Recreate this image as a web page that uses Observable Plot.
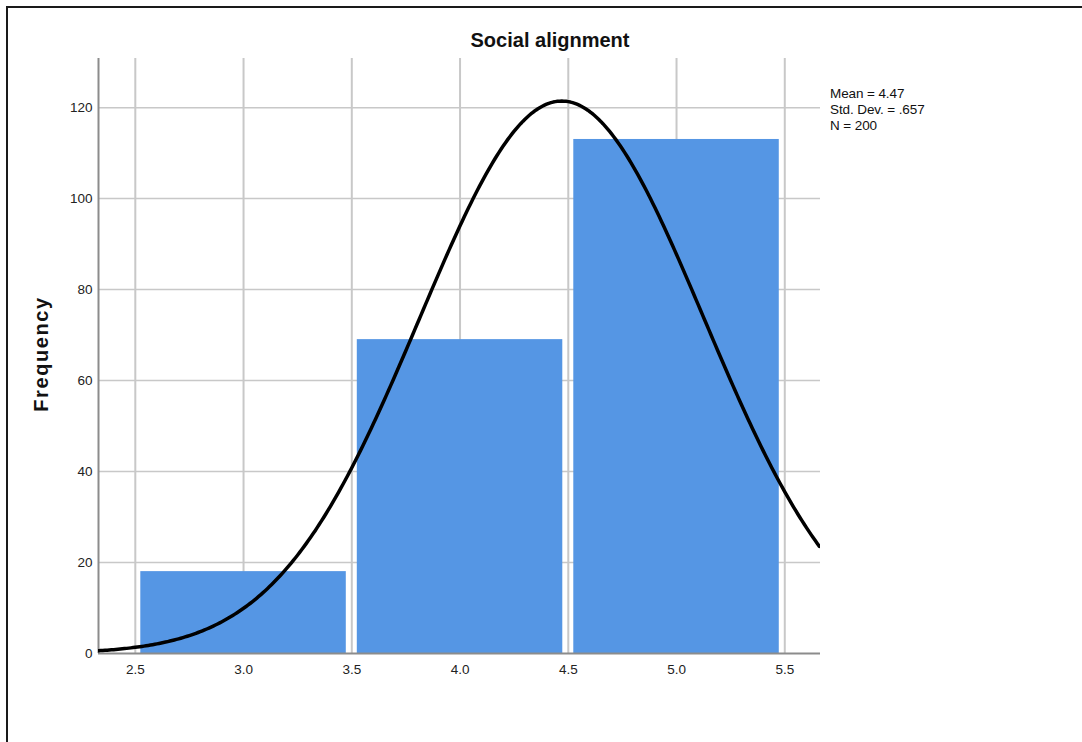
<!DOCTYPE html>
<html>
<head>
<meta charset="utf-8">
<script src="https://cdn.jsdelivr.net/npm/d3@7"></script>
<script src="https://cdn.jsdelivr.net/npm/@observablehq/plot@0.6"></script>
<style>
  html, body { margin: 0; padding: 0; background: #fff; }
  #wrap { position: relative; width: 1082px; height: 742px; overflow: hidden; font-family: "Liberation Sans", Arial, sans-serif; }
  #frame { position: absolute; left: 6px; top: 6px; right: -10px; bottom: -10px; border-top: 2px solid #1a1a1a; border-left: 2px solid #1a1a1a; }
  #title { position: absolute; left: 0; width: 1100px; top: 29px; text-align: center; font-weight: bold; font-size: 20px; color: #111; }
  #ylabel { position: absolute; left: 41px; top: 354px; transform: translate(-50%, -50%) rotate(-90deg); font-weight: bold; font-size: 20px; letter-spacing: 1.6px; color: #111; white-space: nowrap; }
  #stats { position: absolute; left: 830px; top: 86px; font-size: 13.5px; line-height: 16px; color: #111; letter-spacing: -0.1px; }
  #chart { position: absolute; left: 0; top: 0; }
</style>
</head>
<body>
<div id="wrap">
  <div id="chart"></div>
  <div id="frame"></div>
  <div id="title"></div>
  <div id="ylabel"></div>
  <div id="stats"></div>
</div>
<script>
// ---- data ----
const chartTitle = "Social alignment";
const yLabel = "Frequency";
const binStarts = [2.5, 3.5, 4.5];
const binEnds = [3.5, 4.5, 5.5];
const frequencies = [18, 69, 113];
const xTicks = [2.5, 3.0, 3.5, 4.0, 4.5, 5.0, 5.5];
const yTicks = [0, 20, 40, 60, 80, 100, 120];
const mean = 4.47;
const stdDev = 0.657;
const nCases = 200;
const statLines = ["Mean = 4.47", "Std. Dev. = .657", "N = 200"];

// ---- derived ----
const bins = binStarts.map((s, i) => ({x1: s, x2: binEnds[i], y: frequencies[i]}));
const xDomain = [2.33, 5.665];
const yDomain = [0, 130.8];
const binWidth = binEnds[0] - binStarts[0];
// fitted normal curve defined by the chart's stated mean, SD and N
const curve = d3.range(xDomain[0], xDomain[1] + 0.005, 0.01).map(x => ({
  x,
  y: nCases * binWidth * Math.exp(-0.5 * ((x - mean) / stdDev) ** 2) / (stdDev * Math.sqrt(2 * Math.PI))
}));

document.getElementById("title").textContent = chartTitle;
document.getElementById("ylabel").textContent = yLabel;
document.getElementById("stats").innerHTML = statLines.join("<br>");

const plot = Plot.plot({
  width: 1082,
  height: 742,
  marginLeft: 98,
  marginRight: 262,
  marginTop: 58,
  marginBottom: 89,
  style: {fontFamily: "'Liberation Sans', Arial, sans-serif", fontSize: "13.5px", color: "#222", background: "transparent"},
  x: {domain: xDomain},
  y: {domain: yDomain},
  marks: [
    Plot.gridX(xTicks, {stroke: "#c8c8c8", strokeOpacity: 1, strokeWidth: 2}),
    Plot.gridY(yTicks.filter(d => d > 0), {stroke: "#c8c8c8", strokeOpacity: 1, strokeWidth: 1.5}),
    Plot.rectY(bins, {x1: "x1", x2: "x2", y: "y", fill: "#5596e4", insetLeft: 5.5, insetRight: 5.5}),
    Plot.ruleY([0], {stroke: "#8c8c8c", strokeWidth: 2}),
    Plot.ruleX([xDomain[0]], {stroke: "#8c8c8c", strokeWidth: 2}),
    Plot.line(curve, {x: "x", y: "y", stroke: "#000", strokeWidth: 3.5, clip: true}),
    Plot.axisX(xTicks, {tickSize: 0, tickPadding: 11, tickFormat: d3.format(".1f"), label: null}),
    Plot.axisY(yTicks, {tickSize: 0, tickPadding: 6, label: null})
  ]
});
document.getElementById("chart").appendChild(plot);
</script>
</body>
</html>
